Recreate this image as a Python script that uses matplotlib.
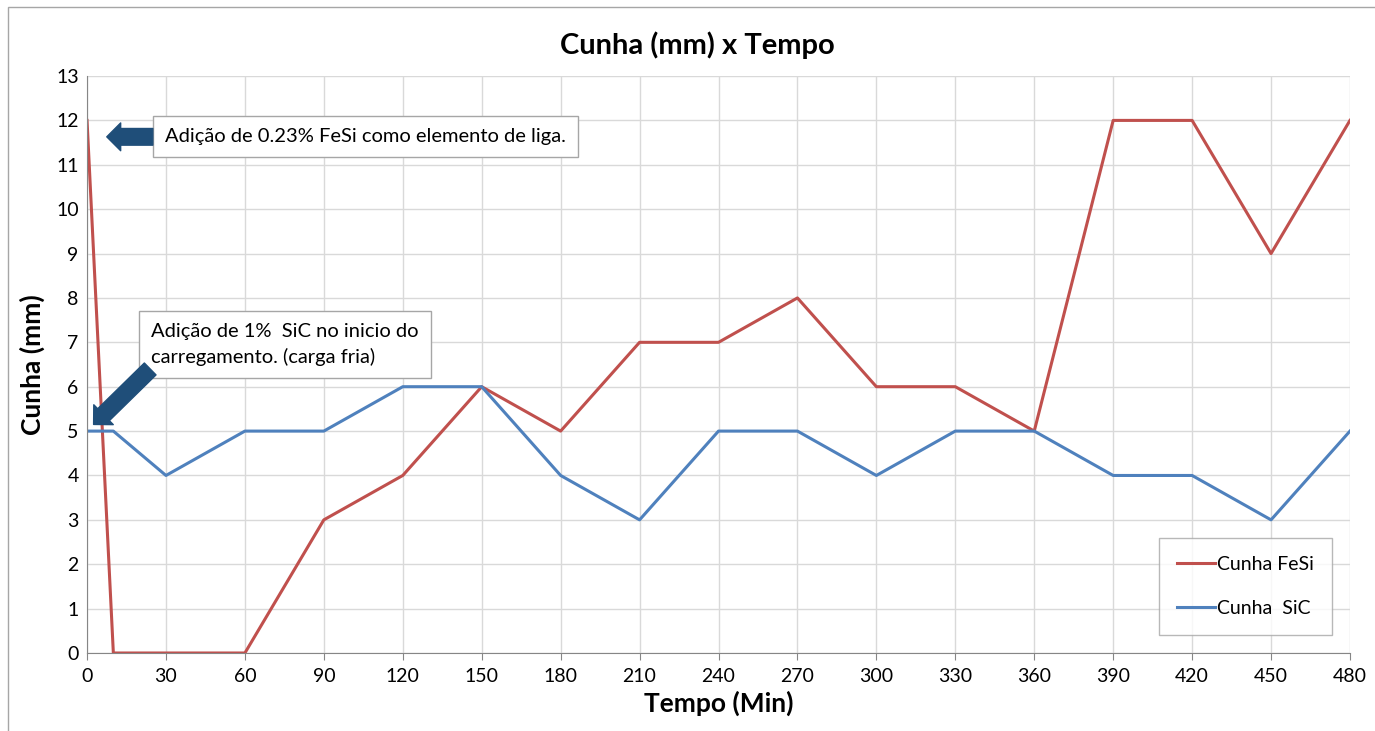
import matplotlib.pyplot as plt
from matplotlib.patches import Rectangle

# data
tempo = [0, 10, 30, 60, 90, 120, 150, 180, 210, 240, 270, 300, 330, 360, 390, 420, 450, 480]
cunha_fesi = [12, 0, 0, 0, 3, 4, 6, 5, 7, 7, 8, 6, 6, 5, 12, 12, 9, 12]
cunha_sic = [5, 5, 4, 5, 5, 6, 6, 4, 3, 5, 5, 4, 5, 5, 4, 4, 3, 5]
x_ticks = list(range(0, 481, 30))
y_ticks = list(range(0, 14))

RED = "#C0504D"
BLUE = "#4F81BD"
NAVY = "#1F4E79"
GRID = "#D9D9D9"

plt.rcParams["font.family"] = ["Lato", "DejaVu Sans"]

fig = plt.figure(figsize=(13.75, 7.31), dpi=100)
ax = fig.add_axes([0.0633, 0.1067, 0.9185, 0.7893])

ax.plot(tempo, cunha_fesi, color=RED, linewidth=2.2, label="Cunha FeSi")
ax.plot(tempo, cunha_sic, color=BLUE, linewidth=2.2, label="Cunha  SiC")

ax.set_xlim(0, 480)
ax.set_ylim(0, 13)
ax.set_xticks(x_ticks)
ax.set_yticks(y_ticks)
ax.tick_params(labelsize=14, length=5, color="#868686", pad=6)
ax.tick_params(axis="y", length=0)
ax.grid(True, color=GRID, linewidth=1)
ax.set_axisbelow(True)
for side in ["top", "right"]:
    ax.spines[side].set_visible(False)
ax.spines["left"].set_color("#868686")
ax.spines["bottom"].set_color("#868686")

fig.text(0.507, 0.938, "Cunha (mm) x Tempo", fontsize=21, fontweight="bold",
         ha="center", va="center")
ax.set_xlabel("Tempo (Min)", fontsize=19, fontweight="bold", labelpad=4)
ax.set_ylabel("Cunha (mm)", fontsize=19, fontweight="bold", labelpad=8)

# annotation boxes with block arrows
box = dict(boxstyle="square,pad=0.6", facecolor="white", edgecolor="#A6A6A6", linewidth=1)
ax.text(29.5, 11.63, "Adição de 0.23% FeSi como elemento de liga.", fontsize=14.5,
        va="center", ha="left", bbox=box)
ax.annotate("", xy=(7.5, 11.63), xytext=(25, 11.63),
            arrowprops=dict(arrowstyle="simple,head_length=1.0,head_width=2.0,tail_width=1.2",
                            color=NAVY, shrinkA=0, shrinkB=0))
ax.text(24.5, 6.95, "Adição de 1%  SiC no inicio do\ncarregamento. (carga fria)", fontsize=14.5,
        va="center", ha="left", linespacing=1.5, bbox=box)
ax.annotate("", xy=(2.5, 5.15), xytext=(24, 6.4),
            arrowprops=dict(arrowstyle="simple,head_length=1.0,head_width=2.0,tail_width=1.2",
                            color=NAVY, shrinkA=0, shrinkB=0))

leg = ax.legend(loc="lower right", bbox_to_anchor=(0.9856, 0.032), fontsize=14,
                frameon=True, fancybox=False, edgecolor="#A6A6A6",
                handlelength=2.0, handletextpad=0.1, labelspacing=1.4,
                borderpad=0.9, borderaxespad=0)
leg.get_frame().set_linewidth(1)

# outer chart border
fig.patches.append(Rectangle((0.006, -0.01), 1.0, 1.0, transform=fig.transFigure,
                             fill=False, edgecolor="#A6A6A6", linewidth=1))

fig.savefig("out.png", dpi=100)
